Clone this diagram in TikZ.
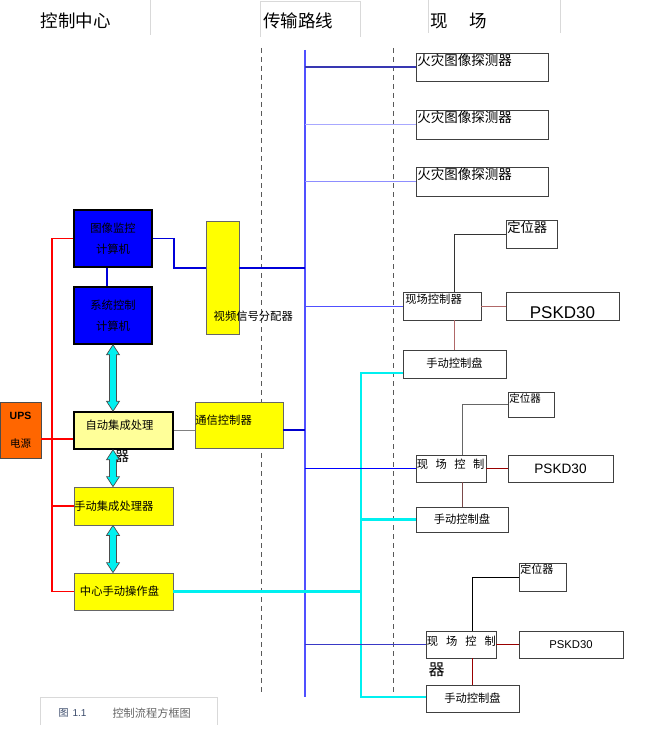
\documentclass[tikz,border=0pt]{standalone}
\usepackage{fontspec}
\setmainfont{Liberation Sans}
\newfontfamily\cjk{Noto Sans CJK SC}
\usetikzlibrary{calc}

\definecolor{pcblue}{HTML}{0000FF}
\definecolor{boxyellow}{HTML}{FFFF00}
\definecolor{paleyellow}{HTML}{FFFF99}
\definecolor{upsorange}{HTML}{FF6600}
\definecolor{busblue}{HTML}{5050FF}
\definecolor{linkcyan}{HTML}{00F0F0}
\definecolor{darkred}{HTML}{990000}
\definecolor{rosered}{HTML}{B06868}
\definecolor{framegray}{HTML}{D9D9D9}
\definecolor{capblue}{HTML}{3A4A6A}

\tikzset{
  sitebox/.style={draw=black!75, line width=0.8pt, inner sep=0pt, align=center,
    font=\cjk\fontsize{11.3}{14}\selectfont},
  pcbox/.style={sitebox, draw=black, line width=1.6pt, fill=pcblue,
    font=\cjk\fontsize{11.3}{21}\selectfont},
  yelbox/.style={sitebox, draw=black!60, fill=boxyellow},
  boxtext/.style={inner sep=1.5pt, font=\cjk\fontsize{11.3}{14}\selectfont},
  powerline/.style={draw=red, line width=1.8pt},
  panelline/.style={draw=linkcyan, line width=2.6pt},
  busline/.style={draw=busblue, line width=2pt},
  videoline/.style={draw=pcblue!85!black, line width=1.8pt},
  cutline/.style={draw=black!65, line width=0.7pt, dash pattern=on 5pt off 4pt},
}

% fat cyan double arrow between two anchors (upper one first)
\newcommand{\fatlink}[2]{%
  \path[draw=black!70, line width=0.7pt, fill=linkcyan]
    let \p1=(#1), \p2=(#2) in
    (\x1,\y1) -- (\x1-6.5pt,\y1-10pt) -- (\x1-3.5pt,\y1-10pt) -- (\x1-3.5pt,\y2+10pt)
    -- (\x1-6.5pt,\y2+10pt) -- (\x1,\y2) -- (\x1+6.5pt,\y2+10pt) -- (\x1+3.5pt,\y2+10pt)
    -- (\x1+3.5pt,\y1-10pt) -- (\x1+6.5pt,\y1-10pt) -- cycle;}

\begin{document}
\begin{tikzpicture}[x=1pt,y=-1pt]
\useasboundingbox (0,0) rectangle (646,741);

% heading row
\draw[framegray, line width=0.8pt] (150,0) -- (150,35) (260,37) -- (260,1) -- (360,1) -- (360,37)
  (428,0) -- (428,33) (560,0) -- (560,33);
\node[font=\cjk\fontsize{17.5}{20}\selectfont] (hdctrl) at (75.5,21) {控制中心};
\node[font=\cjk\fontsize{17.5}{20}\selectfont] (hdline) at (298,21) {传输路线};
\node[font=\cjk\fontsize{17.5}{20}\selectfont] (hdsite) at (458.5,21) {现\hspace{21pt}场};

\draw[cutline] (261,48) -- (261,695);
\draw[cutline] (393,48) -- (393,695);

\coordinate (bustop) at (305,50);
\coordinate (busbot) at (305,697);
\draw[busline] (bustop) -- (busbot);

% control centre
\node[pcbox, minimum width=78, minimum height=57] (imgpc) at (113,238.5) {图像监控\\计算机};
\node[pcbox, minimum width=78, minimum height=57] (syspc) at (113,315.5) {系统控制\\计算机};
\node[yelbox, minimum width=33, minimum height=113] (vsd) at (222.5,277.5) {};
\node[boxtext, anchor=west] (vsdtxt) at (212,316) {视频信号分配器};
\node[sitebox, draw=black!70, fill=upsorange, minimum width=41, minimum height=56,
  font=\fontsize{10.5}{28}\selectfont] (ups) at (20.5,430) {\bfseries UPS\\\cjk 电源};
\node[sitebox, draw=black, line width=1.6pt, fill=paleyellow, minimum width=99, minimum height=37,
  label={[boxtext, xshift=-4pt, yshift=5pt]center:自动集成处理}] (autop) at (123.5,430.5) {};
\node[boxtext, font=\cjk\fontsize{14}{16}\selectfont] (autotail) at (122,456) {器};
\node[yelbox, minimum width=88, minimum height=46,
  label={[boxtext, anchor=west, yshift=5pt, inner sep=0.5pt]west:通信控制器}] (comm) at (239,425) {};
\node[yelbox, minimum width=99, minimum height=38,
  label={[boxtext, anchor=west, inner sep=0.5pt]west:手动集成处理器}] (manp) at (123.5,506) {};
\node[yelbox, minimum width=99, minimum height=37] (cmp) at (123.5,591.5) {\hspace{-8pt}中心手动操作盘};

% field side
\node[sitebox, minimum width=132, minimum height=28,
  label={[boxtext, anchor=north west, font=\cjk\fontsize{13.5}{16}\selectfont]north west:火灾图像探测器}] (det1) at (482,67) {};
\node[sitebox, minimum width=132, minimum height=29,
  label={[boxtext, anchor=north west, font=\cjk\fontsize{13.5}{16}\selectfont]north west:火灾图像探测器}] (det2) at (482,124.5) {};
\node[sitebox, minimum width=132, minimum height=29,
  label={[boxtext, anchor=north west, font=\cjk\fontsize{13.5}{16}\selectfont]north west:火灾图像探测器}] (det3) at (482,181.5) {};

\node[sitebox, minimum width=78, minimum height=28,
  label={[boxtext, anchor=north west, inner sep=2.5pt]north west:现场控制器}] (fc1) at (442,306) {};
\node[sitebox, minimum width=51, minimum height=28,
  label={[boxtext, anchor=north west, font=\cjk\fontsize{13.3}{16}\selectfont]north west:定位器}] (loc1) at (531.5,234) {};
\node[sitebox, minimum width=113, minimum height=28,
  label={[yshift=-6.5pt, font=\fontsize{17}{20}\selectfont]center:PSKD30}] (psk1) at (562.5,306) {};
\node[sitebox, minimum width=103, minimum height=28] (mp1) at (454.5,364) {\raisebox{3pt}{手动控制盘}};

\node[sitebox, minimum width=46, minimum height=25,
  label={[boxtext, anchor=north west, font=\cjk\fontsize{10.5}{13}\selectfont]north west:定位器}] (loc2) at (531,404.5) {};
\node[sitebox, minimum width=70, minimum height=27,
  label={[boxtext, anchor=west, yshift=4.5pt, inner sep=1pt]west:现\hspace{7.5pt}场\hspace{7.5pt}控\hspace{7.5pt}制}] (fc2) at (451,468.5) {};
\node[sitebox, minimum width=105, minimum height=27, font=\fontsize{13.6}{16}\selectfont] (psk2) at (560.5,468.5) {PSKD30};
\node[sitebox, minimum width=92, minimum height=25] (mp2) at (462,519.5) {手动控制盘};

\node[sitebox, minimum width=47, minimum height=28,
  label={[boxtext, anchor=north west, font=\cjk\fontsize{11}{13}\selectfont]north west:定位器}] (loc3) at (542.5,577) {};
\node[sitebox, minimum width=70, minimum height=27,
  label={[boxtext, anchor=west, yshift=3pt, inner sep=1pt]west:现\hspace{8pt}场\hspace{8pt}控\hspace{8pt}制}] (fc3) at (461,644.5) {};
\node[boxtext, font=\cjk\fontsize{16}{18}\selectfont] (fc3tail) at (436.5,670) {器};
\node[sitebox, minimum width=104, minimum height=27, font=\fontsize{11.3}{14}\selectfont] (psk3) at (571,644.5) {PSKD30};
\node[sitebox, minimum width=93, minimum height=27] (mp3) at (472.5,698.5) {手动控制盘};

% power feed
\coordinate (redtop) at (52,238.5);
\coordinate (redbot) at (52,591.5);
\coordinate (upsjoin) at (52,439);
\draw[powerline] (imgpc.west) -- (redtop) -- (redbot) -- (cmp.west);
\draw[powerline] (upsjoin -| ups.east) -- (upsjoin -| autop.west);
\draw[powerline] (redtop |- manp.west) -- (manp.west);

% video and data
\coordinate (vidjoin) at (305,268);
\coordinate (commjoin) at (305,430);
\draw[videoline] ([xshift=-6pt]imgpc.south) -- ([xshift=-6pt]syspc.north);
\draw[videoline] (imgpc.east) -- ++(21,0) |- (vsd.west |- vidjoin);
\draw[videoline] (vsd.east |- vidjoin) -- (vidjoin);
\draw[gray, line width=0.8pt] (autop.east) -- (comm.west |- autop.east);
\draw[pcblue!80!black, line width=2.4pt] (commjoin -| comm.east) -- (commjoin);

\fatlink{syspc.south}{autop.north -| syspc.south}
\fatlink{autop.south -| syspc.south}{manp.north -| syspc.south}
\fatlink{manp.south -| syspc.south}{cmp.north -| syspc.south}

% manual panel line
\coordinate (cyantop) at (361,373);
\coordinate (cyanbot) at (361,697);
\draw[panelline] (cmp.east) -- (cmp.east -| cyantop);
\draw[panelline, line join=miter] (mp1.west |- cyantop) -- (cyantop) -- (cyanbot) -- (mp3.west |- cyanbot);
\draw[panelline] (cyantop |- mp2.west) -- (mp2.west);

% bus taps
\draw[busblue!70!black, line width=1.3pt] (bustop |- det1.west) -- (det1.west);
\draw[busblue!50, line width=1pt] (bustop |- det2.west) -- (det2.west);
\draw[busblue!65, line width=1pt] (bustop |- det3.west) -- (det3.west);
\draw[busblue, line width=0.8pt] (bustop |- fc1.west) -- (fc1.west);
\draw[pcblue, line width=1pt] (bustop |- fc2.west) -- (fc2.west);
\draw[blue!55!gray, line width=0.8pt] (bustop |- fc3.west) -- (fc3.west);

% field controllers
\draw[black!80, line width=0.8pt] (mp1.north |- fc1.north) |- (loc1.west);
\draw[rosered, line width=0.8pt] (mp1.north |- fc1.south) -- (mp1.north);
\draw[rosered, line width=0.8pt] (fc1.east) -- (psk1.west);
\draw[black!60, line width=0.8pt] (mp2.north |- fc2.north) |- (loc2.west);
\draw[rosered!70!black, line width=0.8pt] (mp2.north |- fc2.south) -- (mp2.north);
\draw[darkred, line width=0.8pt] (fc2.east) -- (psk2.west);
\draw[black, line width=0.8pt] (mp3.north |- fc3.north) |- (loc3.west);
\draw[darkred, line width=0.8pt] (mp3.north |- fc3.south) -- (mp3.north);
\draw[darkred, line width=0.8pt] (fc3.east) -- (psk3.west);

% caption
\draw[framegray, line width=0.8pt] (40,725) -- (40,697) -- (217,697) -- (217,725);
\node[anchor=west, text=capblue, font=\fontsize{10}{12}\selectfont] (capno) at (55,713) {{\cjk 图}\hspace{4pt}1.1};
\node[anchor=west, text=black!60, font=\cjk\fontsize{11.2}{13}\selectfont] (captitle) at (109,713) {控制流程方框图};
\end{tikzpicture}
\end{document}
